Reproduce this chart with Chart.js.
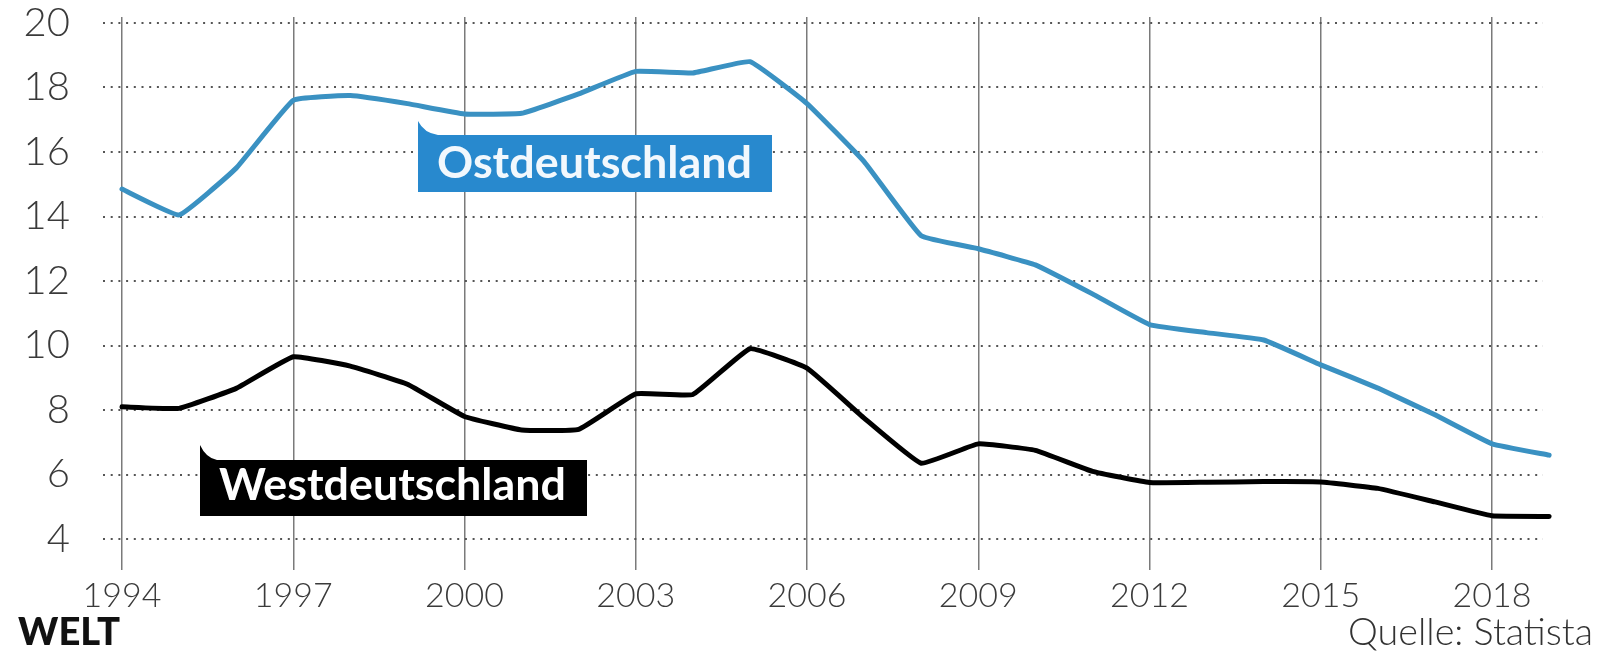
<!DOCTYPE html>
<html>
<head>
<meta charset="utf-8">
<script src="https://cdn.jsdelivr.net/npm/chart.js@4.4.1/dist/chart.umd.min.js"></script>
<style>
  html, body { margin: 0; padding: 0; background: #fff; }
  #wrap { width: 1605px; height: 651px; position: relative; }
</style>
</head>
<body>
<div id="wrap"><canvas id="chart" width="1605" height="651"></canvas></div>
<script>
// Arbeitslosenquote Ost/West, Werte
const years = [1994, 1995, 1996, 1997, 1998, 1999, 2000, 2001, 2002, 2003, 2004, 2005, 2006,
               2007, 2008, 2009, 2010, 2011, 2012, 2013, 2014, 2015, 2016, 2017, 2018, 2019];
const ostValues = [14.85, 14.05, 15.5, 17.6, 17.75, 17.5, 17.18, 17.2, 17.8, 18.5, 18.45, 18.8, 17.5,
                   15.7, 13.4, 13.0, 12.5, 11.6, 10.65, 10.4, 10.17, 9.4, 8.68, 7.85, 6.95, 6.6];
const westValues = [8.1, 8.05, 8.67, 9.65, 9.36, 8.8, 7.8, 7.38, 7.4, 8.5, 8.48, 9.9, 9.3,
                    7.75, 6.35, 6.95, 6.75, 6.1, 5.75, 5.76, 5.78, 5.77, 5.57, 5.15, 4.72, 4.7];
const xTickYears = [1994, 1997, 2000, 2003, 2006, 2009, 2012, 2015, 2018];
const yTickValues = [4, 6, 8, 10, 12, 14, 16, 18, 20];

const FONT = 'Lato, "Open Sans", sans-serif';

function toPoints(vals) {
    return years.map((y, i) => ({ x: y, y: vals[i] }));
}

// Fahne mit Spitze oben links
function drawFlag(ctx, text, box, tailTop, tailEnd, textLeft, textRight, baseline, bg, fg) {
    const [l, t, r, b] = box;
    ctx.fillStyle = bg;
    ctx.beginPath();
    ctx.moveTo(l, tailTop);
    ctx.quadraticCurveTo(l + 6, t - 2, tailEnd, t);
    ctx.lineTo(r, t);
    ctx.lineTo(r, b);
    ctx.lineTo(l, b);
    ctx.closePath();
    ctx.fill();
    fitText(ctx, text, textLeft, baseline, textRight - textLeft, 'bold', fg, 'left');
}

function fitText(ctx, text, x, y, width, weight, color, align) {
    ctx.font = `${weight} 100px ${FONT}`;
    const w = ctx.measureText(text).width;
    const size = 100 * width / w;
    ctx.font = `${weight} ${size}px ${FONT}`;
    ctx.fillStyle = color;
    ctx.textAlign = align;
    ctx.textBaseline = 'alphabetic';
    ctx.fillText(text, x, y);
}

const annotations = {
    id: 'annotations',
    afterDraw(chart) {
        const ctx = chart.ctx;
        ctx.save();
        drawFlag(ctx, 'Ostdeutschland', [418, 135, 772, 192], 121, 438, 437, 752, 178, '#2889ce', '#f2f8fd');
        drawFlag(ctx, 'Westdeutschland', [200, 460, 587, 516], 445, 217, 219, 566, 500, '#000000', '#ffffff');
        fitText(ctx, 'WELT', 18, 645, 102, '900', '#111', 'left');
        fitText(ctx, 'Quelle: Statista', 1593, 645, 245, '300', '#333', 'right');
        ctx.restore();
    }
};

const noPad = s => { s.paddingTop = 0; s.paddingBottom = 0; s.paddingLeft = 0; s.paddingRight = 0; };

new Chart(document.getElementById('chart').getContext('2d'), {
    type: 'line',
    data: {
        datasets: [
            { label: 'Ostdeutschland', data: toPoints(ostValues), borderColor: '#3a91c2', borderWidth: 5,
              pointRadius: 0, tension: 0.1, clip: false, borderJoinStyle: 'round', borderCapStyle: 'round' },
            { label: 'Westdeutschland', data: toPoints(westValues), borderColor: '#000000', borderWidth: 5,
              pointRadius: 0, tension: 0.1, clip: false, borderJoinStyle: 'round', borderCapStyle: 'round' }
        ]
    },
    options: {
        responsive: false,
        devicePixelRatio: 1,
        animation: false,
        layout: { padding: { top: 17, right: 62, bottom: 0, left: 0 } },
        plugins: { legend: { display: false }, tooltip: { enabled: false } },
        scales: {
            x: {
                type: 'linear',
                min: 1993.667,
                max: 2018.893,
                afterBuildTicks: s => { s.ticks = xTickYears.map(v => ({ value: v })); },
                afterFit: s => { s.height = 81; noPad(s); },
                ticks: { callback: v => String(v), color: '#3a3a3a', padding: 6, autoSkip: false, maxRotation: 0,
                         font: { family: FONT, size: 34, weight: '300' } },
                grid: { color: '#7a7a7a', lineWidth: 1.5, drawTicks: false },
                border: { display: false }
            },
            y: {
                min: 3.039,
                max: 20.186,
                afterBuildTicks: s => { s.ticks = yTickValues.map(v => ({ value: v })); },
                afterFit: s => { s.width = 103; noPad(s); },
                ticks: { color: '#3a3a3a', padding: 33, font: { family: FONT, size: 40, weight: '300' } },
                grid: { color: '#555', lineWidth: 2, drawTicks: false },
                border: { display: false, dash: [2, 5.7] }
            }
        }
    },
    plugins: [annotations]
});
</script>
</body>
</html>
